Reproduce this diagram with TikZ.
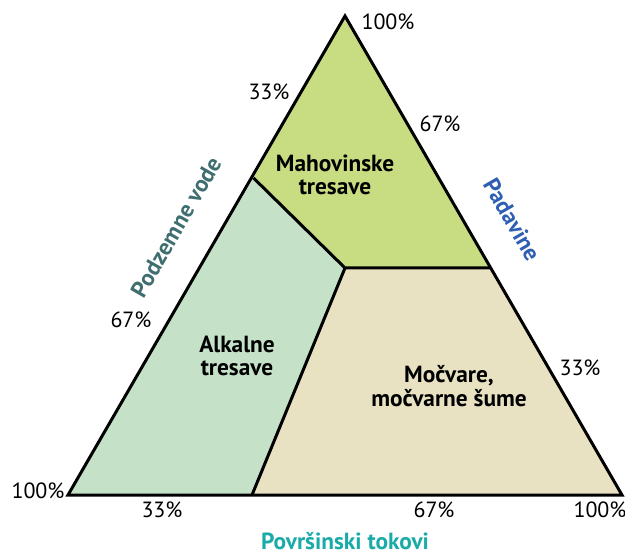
\documentclass[tikz,border=0pt]{standalone}
\usepackage{fontspec}
\setmainfont{PT Sans}
\definecolor{moss}{HTML}{C8DC82}
\definecolor{alk}{HTML}{C5E1C8}
\definecolor{marsh}{HTML}{E8E2C3}
\definecolor{ground}{HTML}{3F6E70}
\definecolor{rain}{HTML}{2E5FB2}
\definecolor{surf}{HTML}{1AABA8}
\begin{document}
\begin{tikzpicture}[x=0.75pt,y=-0.75pt,
  pct/.style={font=\fontsize{16.5}{18}\selectfont, inner sep=0pt},
  zone/.style={font=\bfseries\fontsize{17.5}{17.5}\selectfont, align=center, inner sep=0pt},
  axis/.style={font=\bfseries\fontsize{17.5}{19}\selectfont, inner sep=0pt},
  edge/.style={line width=2.25pt, line join=miter}]
\useasboundingbox (0,0) rectangle (625,552);
\coordinate (T) at (345,16);
\coordinate (L) at (68,495);
\coordinate (R) at (622,495);
\coordinate (J) at (345,268);
\coordinate (A) at (253.5,178);
\coordinate (B) at (490.5,268);
\coordinate (C) at (252,495);
\fill[moss] (T) -- (B) -- (J) -- (A) -- cycle;
\fill[alk] (A) -- (J) -- (C) -- (L) -- cycle;
\fill[marsh] (J) -- (B) -- (R) -- (C) -- cycle;
\draw[edge] (A) -- (J) -- (B);
\draw[edge] (J) -- (C);
\draw[edge] (T) -- (L) -- (R) -- cycle;
\node[pct] (p1) at (388,22) {100\%};
\node[pct] (p2) at (269,92) {33\%};
\node[pct] (p3) at (440,124) {67\%};
\node[pct] (p4) at (131,320) {67\%};
\node[pct] (p5) at (580,368) {33\%};
\node[pct] (p6) at (38,491) {100\%};
\node[pct] (p7) at (162,510) {33\%};
\node[pct] (p8) at (434,510) {67\%};
\node[pct] (p9) at (600,510) {100\%};
\node[zone] (z1) at (335,175) {Mahovinske\\tresave};
\node[zone] (z2) at (237,356) {Alkalne\\tresave};
\node[zone] (z3) at (449,386) {Močvare,\\močvarne šume};
\node[axis, text=ground, rotate=60] (a1) at (176,227) {Podzemne vode};
\node[axis, text=rain, rotate=-60] (a2) at (512,220) {Padavine};
\node[axis, text=surf] (a3) at (345,541) {Površinski tokovi};
\end{tikzpicture}
\end{document}
